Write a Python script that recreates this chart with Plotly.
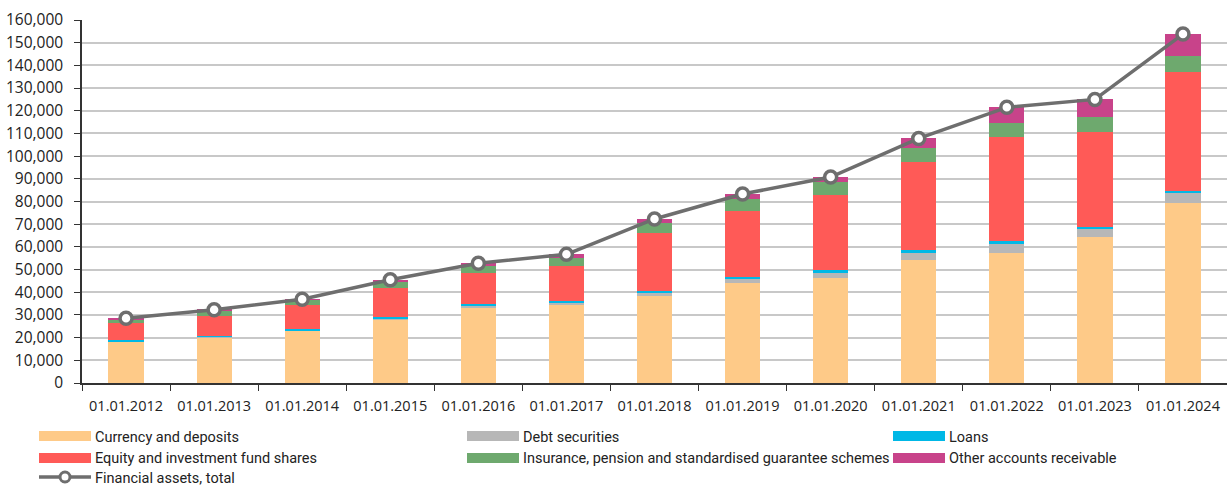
import plotly.graph_objects as go

categories = ["01.01.2012", "01.01.2013", "01.01.2014", "01.01.2015", "01.01.2016",
              "01.01.2017", "01.01.2018", "01.01.2019", "01.01.2020", "01.01.2021",
              "01.01.2022", "01.01.2023", "01.01.2024"]

currency_deposits = [18200, 20100, 23000, 28100, 33200, 34700, 38300, 43900, 46100, 54200, 57400, 64500, 79500]
debt_securities = [200, 200, 300, 300, 600, 700, 1200, 1800, 2400, 3200, 3900, 3400, 4100]
loans = [400, 500, 300, 600, 900, 900, 900, 1000, 1300, 1200, 1300, 700, 1200]
equity_fund_shares = [7500, 8900, 10600, 13000, 13600, 15300, 25800, 29200, 33100, 38900, 45700, 42200, 52100]
insurance_pension = [1800, 2200, 2400, 2400, 3300, 3600, 4400, 5200, 5500, 5900, 6400, 6600, 7400]
other_receivable = [400, 400, 300, 1100, 1200, 1500, 1700, 2200, 2400, 4400, 6800, 7600, 9500]
financial_assets_total = [28500, 32300, 36900, 45500, 52800, 56700, 72300, 83300, 90800, 107800, 121500, 125000, 153800]

series_names = ["Currency and deposits", "Debt securities", "Loans",
                "Equity and investment fund shares",
                "Insurance, pension and standardised guarantee schemes",
                "Other accounts receivable"]
series_values = [currency_deposits, debt_securities, loans, equity_fund_shares,
                 insurance_pension, other_receivable]
series_colors = ["#FECA88", "#B7B7B7", "#00B8E6", "#FF5A57", "#6EA96E", "#C8438A"]
total_name = "Financial assets, total"
line_color = "#6E6E6E"

W, H = 1227, 486
ML, MR, MT, MB = 82, 0, 20, 103
PW, PH = W - ML - MR, H - MT - MB

fig = go.Figure()
for name, vals, col in zip(series_names, series_values, series_colors):
    fig.add_trace(go.Bar(x=categories, y=vals, name=name, marker_color=col,
                         marker_line_width=0, showlegend=False))
fig.add_trace(go.Scatter(x=categories, y=financial_assets_total, name=total_name,
                         mode="lines+markers", showlegend=False, cliponaxis=False,
                         line=dict(color=line_color, width=3.5),
                         marker=dict(size=12, color="white",
                                     line=dict(color=line_color, width=3.5))))

x_font = dict(family="Open Sans, Liberation Sans, sans-serif", size=14.5, color="#222222")
y_font = dict(family="Open Sans, Liberation Sans, sans-serif", size=15.5, color="#222222")
fig.update_layout(
    width=W, height=H,
    margin=dict(l=ML, r=MR, t=MT, b=MB),
    paper_bgcolor="white", plot_bgcolor="white",
    barmode="stack", bargap=0.6,
    xaxis=dict(type="category", range=[-0.5, len(categories) - 0.5],
               showline=True, linecolor="#333333", linewidth=1.5,
               ticks="outside", tickson="boundaries", ticklen=6, tickcolor="#333333",
               tickfont=x_font, showgrid=False, tickangle=0, automargin=False,
               ticklabelstandoff=9),
    yaxis=dict(range=[0, 160000], dtick=10000, tickformat=",", showline=True,
               linecolor="#333333", linewidth=1.5, ticks="outside", ticklen=6,
               tickcolor="#333333", tickfont=y_font, gridcolor="#C8C8C8",
               gridwidth=1.5, zeroline=False, automargin=False,
               ticklabelstandoff=8),
    showlegend=False,
)

# custom legend (swatches + labels) in pixel-derived paper coordinates
def px_x(x):
    return (x - ML) / PW

def px_y(y):
    return (H - MB - y) / PH

legend_font = dict(family="Liberation Sans Narrow, Roboto, sans-serif", size=14.5, color="#222222")
col_left = [39, 467, 893]
row_center = [436, 458, 477]
sw_w, sw_h = 52, 10
for i, (name, col) in enumerate(zip(series_names, series_colors)):
    r, c = divmod(i, 3)
    x0 = col_left[c]
    yc = row_center[r]
    fig.add_shape(type="rect", xref="paper", yref="paper",
                  x0=px_x(x0), x1=px_x(x0 + sw_w), y0=px_y(yc + sw_h / 2), y1=px_y(yc - sw_h / 2),
                  fillcolor=col, line_width=0)
    fig.add_annotation(xref="paper", yref="paper", x=px_x(x0 + sw_w + 2), y=px_y(yc + 1),
                       text=name, showarrow=False, xanchor="left", yanchor="middle",
                       font=legend_font)
# line legend entry
x0, yc = col_left[0], row_center[2]
fig.add_shape(type="line", xref="paper", yref="paper", x0=px_x(x0), x1=px_x(x0 + sw_w),
              y0=px_y(yc), y1=px_y(yc), line=dict(color=line_color, width=3.5))
fig.add_shape(type="circle", xref="paper", yref="paper",
              x0=px_x(x0 + sw_w / 2 - 5), x1=px_x(x0 + sw_w / 2 + 5),
              y0=px_y(yc + 5), y1=px_y(yc - 5),
              fillcolor="white", line=dict(color=line_color, width=3))
fig.add_annotation(xref="paper", yref="paper", x=px_x(x0 + sw_w + 2), y=px_y(yc + 1),
                   text=total_name, showarrow=False, xanchor="left", yanchor="middle",
                   font=legend_font)

fig.write_html("out.html", config={"displayModeBar": False},
               post_script="document.body.style.margin='0';document.body.style.overflow='hidden';")
